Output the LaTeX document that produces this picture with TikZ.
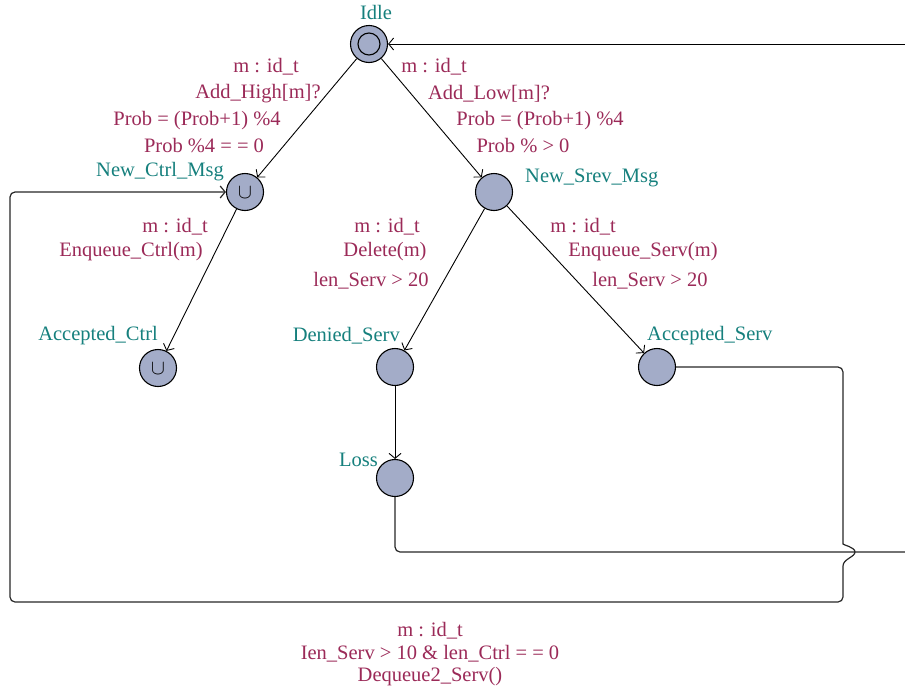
\documentclass[tikz,border=0pt]{standalone}
\usepackage{fontspec}
\setmainfont{Liberation Serif}
\usetikzlibrary{arrows.meta}
\definecolor{locname}{RGB}{22,128,125}
\definecolor{edgelbl}{RGB}{155,42,88}
\definecolor{locfill}{RGB}{163,172,200}
\begin{document}
\begin{tikzpicture}[x=1pt,y=-1pt,
  loc/.style={circle,draw=black,line width=1.1pt,fill=locfill,minimum size=37pt,inner sep=0pt},
  lname/.style={text=locname,font=\fontsize{20.5}{24}\selectfont,inner sep=0pt},
  elbl/.style={text=edgelbl,font=\fontsize{20.5}{24}\selectfont,inner sep=0pt},
  trans/.style={draw=black,line width=0.9pt,-{Straight Barb[length=5pt,width=12pt]}},
  loopline/.style={draw=black!85,line width=1.2pt},
  urgent/.style={font=\fontsize{22}{26}\selectfont,inner sep=0pt}
]
\useasboundingbox (0,0) rectangle (905,691);
\clip (0,0) rectangle (905,691);

% locations
\node[loc] (idle)  at (369,44)  {};
\draw[line width=1.1pt] (idle.center) circle[radius=11pt];
\node[loc] (nctrl) at (245,192) {};
\node[urgent] (nctrlU) at (245,193) {$\cup$};
\node[loc] (nsrev) at (494,192) {};
\node[loc] (actrl) at (158,368) {};
\node[urgent] (actrlU) at (158,369) {$\cup$};
\node[loc] (dserv) at (395,367) {};
\node[loc] (aserv) at (657,367) {};
\node[loc] (loss)  at (395,478) {};

% location names
\node[lname] (idleN)  at (376,12)  {Idle};
\node[lname,anchor=east] (nctrlN) at (224,172) {New\_Ctrl\_Msg};
\node[lname,anchor=west] (nsrevN) at (525,178) {New\_Srev\_Msg};
\node[lname,anchor=east] (actrlN) at (158,336) {Accepted\_Ctrl};
\node[lname,anchor=east] (dservN) at (400,336) {Denied\_Serv};
\node[lname,anchor=west] (aservN) at (647,336) {Accepted\_Serv};
\node[lname,anchor=east] (lossN)  at (378,460) {Loss};

% transitions
\draw[trans] (idle) -- (nctrl);
\draw[trans] (idle) -- (nsrev);
\draw[trans] (nctrl) -- (actrl);
\draw[trans] (nsrev) -- (dserv);
\draw[trans] (nsrev) -- (aserv);
\draw[trans] (dserv) -- (loss);

% return paths
\coordinate (topR)  at (925,44);
\coordinate (lossR) at (925,552);
\draw[trans] (topR) -- (idle);
\draw[loopline,rounded corners=5pt] (loss.south) -- (395,552) -- (lossR);
\draw[loopline,rounded corners=5pt,-{Straight Barb[length=5pt,width=12pt]}]
  (aserv.east) -- (843,367) -- (843,539)
  [sharp corners] .. controls (843,545) and (855,547) .. (855,552)
  .. controls (855,557) and (843,559) .. (843,566)
  [rounded corners=5pt] -- (843,602) -- (10,602) -- (10,192) -- (nctrl.west);

% transition labels
\node[elbl] (l1a) at (266,67)  {m : id\_t};
\node[elbl] (l1b) at (258,94)  {Add\_High[m]?};
\node[elbl] (l1c) at (197,121) {Prob = (Prob+1) \%4};
\node[elbl] (l1d) at (204,146) {Prob \%4 = = 0};

\node[elbl] (l2a) at (434,67)  {m : id\_t};
\node[elbl] (l2b) at (489,94)  {Add\_Low[m]?};
\node[elbl] (l2c) at (540,121) {Prob = (Prob+1) \%4};
\node[elbl] (l2d) at (523,146) {Prob \% > 0};

\node[elbl] (l3a) at (175,227) {m : id\_t};
\node[elbl] (l3b) at (131,252) {Enqueue\_Ctrl(m)};

\node[elbl] (l4a) at (387,227) {m : id\_t};
\node[elbl] (l4b) at (385,252) {Delete(m)};
\node[elbl] (l4c) at (371,281) {len\_Serv > 20};

\node[elbl] (l5a) at (583,227) {m : id\_t};
\node[elbl] (l5b) at (643,252) {Enqueue\_Serv(m)};
\node[elbl] (l5c) at (650,281) {len\_Serv > 20};

\node[elbl] (l6a) at (430,631) {m : id\_t};
\node[elbl] (l6b) at (430,654) {Ien\_Serv > 10 \& len\_Ctrl = = 0};
\node[elbl] (l6c) at (430,677) {Dequeue2\_Serv()};
\end{tikzpicture}
\end{document}
